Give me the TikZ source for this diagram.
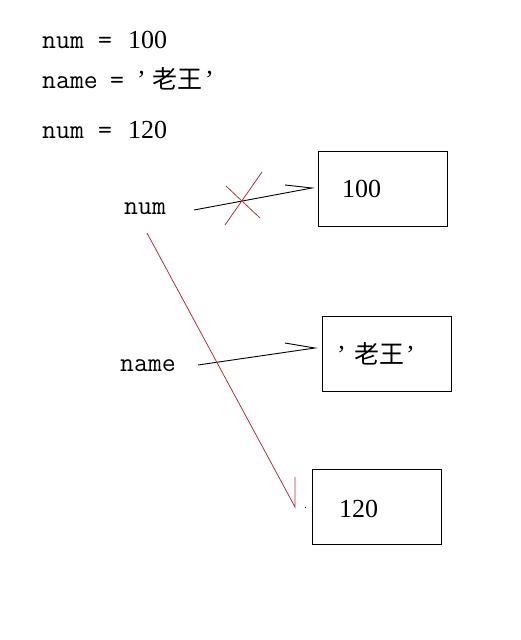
\documentclass[tikz,border=0pt]{standalone}
\usepackage{fontspec}
\setmainfont{Liberation Serif}
\newfontfamily\cjkf{Noto Sans CJK SC}
\definecolor{penred}{RGB}{175,50,60}
\begin{document}
\begin{tikzpicture}[x=1pt,y=-1pt,
  txt/.style={inner sep=0pt, anchor=base west},
  mono/.style={txt, font=\ttfamily\fontsize{27}{27}\selectfont},
  numf/.style={txt, font=\fontsize{26}{26}\selectfont},
  cjk/.style={txt, font=\cjkf\fontsize{25}{25}\selectfont},
  valbox/.style={draw, line width=1pt, minimum width=129pt, minimum height=75pt, anchor=north west, inner sep=0pt},
  arr/.style={line width=0.9pt, black},
  redln/.style={line width=0.8pt, penred}]
\useasboundingbox (0,0) rectangle (520,640);
% code lines
\node[mono] (l1a) at (42,48) {num};
\node[mono] (l1b) at (98,48) {=};
\node[numf] (l1c) at (128,48) {100};
\node[mono] (l2a) at (42,88) {name};
\node[mono] (l2b) at (110,88) {=};
\node[numf] (l2c) at (137,88) {’};
\node[cjk] (l2d) at (152,88) {老王};
\node[numf] (l2e) at (205,88) {’};
\node[mono] (l3a) at (42,138) {num};
\node[mono] (l3b) at (98,138) {=};
\node[numf] (l3c) at (128,138) {120};
% boxes
\node[valbox] (b1) at (318,151) {};
\node[valbox] (b2) at (322,316) {};
\node[valbox] (b3) at (312,469) {};
\node[numf] (v1) at (342,197) {100};
\node[numf] (v2a) at (337,363) {’};
\node[cjk] (v2b) at (354,363) {老王};
\node[numf] (v2c) at (406,363) {’};
\node[numf] (v3) at (339,517) {120};
% variable labels
\node[mono] (vn) at (124,214) {num};
\node[mono] (vm) at (120,371) {name};
% arrows
\coordinate (a1s) at (194,210);
\coordinate (a1e) at (312,188);
\coordinate (a1h) at (285,185);
\draw[arr] (a1s) -- (a1e) -- (a1h);
\coordinate (a2s) at (198,365);
\coordinate (a2e) at (315,348);
\coordinate (a2h) at (285,343);
\draw[arr] (a2s) -- (a2e) -- (a2h);
% red cross
\coordinate (x1a) at (226,186);
\coordinate (x1b) at (260,218);
\coordinate (x2a) at (262,172);
\coordinate (x2b) at (225,225);
\draw[redln] (x1a) -- (x1b);
\draw[redln] (x2a) -- (x2b);
% red arrow
\coordinate (r1s) at (147,233);
\coordinate (r1e) at (295,507);
\coordinate (r1h) at (295,477);
\draw[redln] (r1s) -- (r1e) -- (r1h);
\fill (305.5,507.5) circle (0.7pt);
\end{tikzpicture}
\end{document}
